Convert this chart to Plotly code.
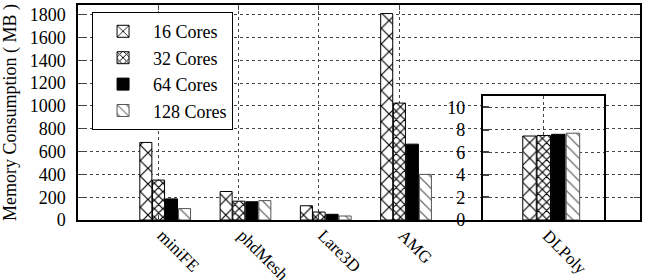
import plotly.graph_objects as go

# ---- data ----
categories = ["miniFE", "phdMesh", "Lare3D", "AMG"]
series_names = ["16 Cores", "32 Cores", "64 Cores", "128 Cores"]
cores16 = [680, 250, 125, 1810]
cores32 = [350, 165, 70, 1025]
cores64 = [185, 160, 50, 665]
cores128 = [100, 170, 35, 400]

inset_category = ["DLPoly"]
dlpoly16 = [7.45]
dlpoly32 = [7.5]
dlpoly64 = [7.6]
dlpoly128 = [7.7]

y_ticks_main = [0, 200, 400, 600, 800, 1000, 1200, 1400, 1600, 1800]
y_ticks_inset = [0, 2, 4, 6, 8, 10]

# ---- styles ----
FONT = "Liberation Serif, Times New Roman, serif"
FS = 18
tf = dict(family=FONT, size=FS, color="black")
xtf = dict(family=FONT, size=17, color="black")
offsets = [-0.23, -0.072, 0.09, 0.252]
bar_w = 0.15
patterns = [
    dict(shape="x", size=11, solidity=0.2, fgcolor="black", bgcolor="white"),
    dict(shape="x", size=6, solidity=0.35, fgcolor="black", bgcolor="white"),
    None,
    dict(shape="\\", size=8, solidity=0.15, fgcolor="#666666", bgcolor="white"),
]
fills = ["white", "white", "black", "white"]
line_cols = ["black", "black", "black", "#555555"]

main_data = [cores16, cores32, cores64, cores128]
inset_data = [dlpoly16, dlpoly32, dlpoly64, dlpoly128]

fig = go.Figure()
xpos = list(range(len(categories)))
for i, (name, vals) in enumerate(zip(series_names, main_data)):
    marker = dict(color=fills[i], line=dict(color=line_cols[i], width=1))
    if patterns[i] is not None:
        marker["pattern"] = patterns[i]
    fig.add_trace(go.Bar(x=xpos, y=vals, name=name, offset=offsets[i], width=bar_w,
                         marker=marker, xaxis="x", yaxis="y"))

for i, (name, vals) in enumerate(zip(series_names, inset_data)):
    marker = dict(color=fills[i], line=dict(color=line_cols[i], width=1))
    if patterns[i] is not None:
        marker["pattern"] = patterns[i]
    fig.add_trace(go.Bar(x=[0], y=vals, name=name, offset=offsets[i], width=bar_w,
                         marker=marker, xaxis="x2", yaxis="y2", showlegend=False))

grid = dict(gridcolor="#444444", griddash="dot", gridwidth=1)

fig.update_layout(
    template="none",
    width=646, height=280,
    margin=dict(l=78, r=6, t=5, b=60, autoexpand=False),
    paper_bgcolor="white", plot_bgcolor="white",
    barmode="overlay",
    font=dict(family=FONT, size=FS, color="black"),
    showlegend=True,
    legend=dict(x=0.025, y=0.967, xanchor="left", yanchor="top",
                bgcolor="white", bordercolor="black", borderwidth=1,
                font=tf, tracegroupgap=0, itemwidth=50),
    xaxis=dict(domain=[0, 1], range=[-1, 6], tickmode="array", tickvals=xpos,
               ticktext=categories, tickangle=45, tickfont=xtf, automargin=False,
               ticklabelshift=4, ticklabelstandoff=-3,
               showline=True, linecolor="black",
               linewidth=1.5, mirror="allticks", ticks="inside", ticklen=5,
               showgrid=True, zeroline=False, **grid),
    yaxis=dict(domain=[0, 1], range=[0, 1885], tickmode="array", tickvals=y_ticks_main,
               tickfont=tf, automargin=False, ticklabelstandoff=7,
               showline=True, linecolor="black", linewidth=1.5, mirror="allticks",
               ticks="inside", ticklen=6, showgrid=True, zeroline=False,
               title=dict(text="Memory Consumption ( MB )", standoff=8, font=tf),
               **grid),
    xaxis2=dict(domain=[0.7206, 0.9359], range=[-0.672, 0.672], anchor="y2",
                tickmode="array", tickvals=[0], ticktext=inset_category, tickangle=45,
                tickfont=xtf, automargin=False, ticklabelshift=4, ticklabelstandoff=-3,
                showline=True, linecolor="black", linewidth=2.2, mirror=True,
                ticks="", showgrid=True, zeroline=False, **grid),
    yaxis2=dict(domain=[0, 0.5767], range=[0, 11], anchor="x2", tickmode="array",
                tickvals=y_ticks_inset, tickfont=tf, automargin=False,
                showline=True, linecolor="black", linewidth=2.2,
                mirror=True, ticks="inside", ticklen=6, tickwidth=2, showgrid=True,
                zeroline=False, ticklabelstandoff=12, **grid),
)

fig.write_html("out.html")
